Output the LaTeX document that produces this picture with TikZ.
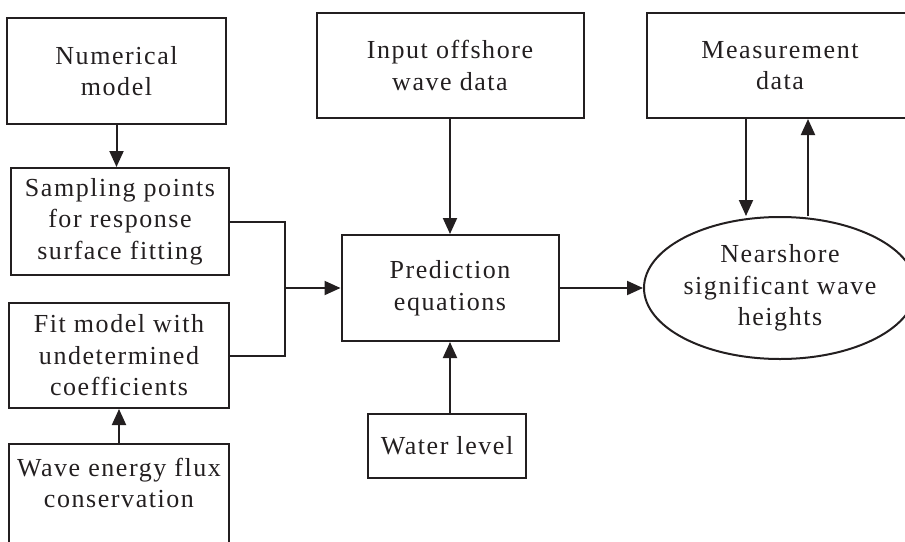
\documentclass[tikz,border=0pt]{standalone}
\usepackage{fontspec}
\setmainfont{Liberation Serif}[LetterSpace=6]
\usetikzlibrary{arrows.meta,shapes.geometric}
\definecolor{ink}{RGB}{35,31,32}
\tikzset{
  box/.style={draw=ink, line width=2pt, align=center, text=ink, inner sep=0pt},
  oval/.style={ellipse, draw=ink, line width=2pt, align=center, text=ink, inner xsep=-14pt, inner ysep=0pt},
  arr/.style={draw=ink, line width=2pt, -{Triangle[length=16pt,width=14pt]}},
  link/.style={draw=ink, line width=2pt}
}
\begin{document}
\begin{tikzpicture}[x=1pt, y=-1pt, font=\fontsize{26}{31.5}\selectfont]
  \useasboundingbox (0,0) rectangle (905,541);
  \clip (0,0) rectangle (905,541);
  \node[box, minimum width=219pt, minimum height=106pt] (num) at (116.5,71) {Numerical\\model};
  \node[box, minimum width=218pt, minimum height=107pt] (samp) at (120,221.5) {Sampling points\\for response\\surface fitting};
  \node[box, minimum width=220pt, minimum height=105pt] (fit) at (119,355.5) {Fit model with\\undetermined\\coefficients};
  \node[box, minimum width=220pt, inner ysep=14pt, anchor=north] (wave) at (119,443) {Wave energy flux\\conservation\rule[-60pt]{0pt}{0pt}};
  \node[box, minimum width=267pt, minimum height=105pt] (inp) at (450,65.5) {Input offshore\\wave data};
  \node[box, minimum width=217pt, minimum height=106pt] (pred) at (450,288) {Prediction\\equations};
  \node[box, minimum width=158pt, minimum height=64pt] (water) at (447,446) {Water level};
  \node[box, minimum width=266pt, minimum height=105pt] (meas) at (780,65.5) {Measurement\\data};
  \node[oval, minimum width=272pt, minimum height=142pt] (near) at (780,288) {Nearshore\\significant wave\\heights};
  \coordinate (junc) at (285,288);
  \draw[arr] (num.south) -- (num.south |- samp.north);
  \draw[link] (samp.east) -- (samp.east -| junc) -- (fit.east -| junc) -- (fit.east);
  \draw[arr] (junc) -- (pred.west);
  \draw[arr] (wave.north) -- (fit.south);
  \draw[arr] (inp.south) -- (pred.north);
  \draw[arr] (water.north -| pred.south) -- (pred.south);
  \draw[arr] (pred.east) -- (near.west);
  \draw[arr] ([xshift=-34pt]meas.south) -- ([xshift=-34pt]near.north);
  \draw[arr] ([xshift=28pt]near.north) -- ([xshift=28pt]meas.south);
\end{tikzpicture}
\end{document}
